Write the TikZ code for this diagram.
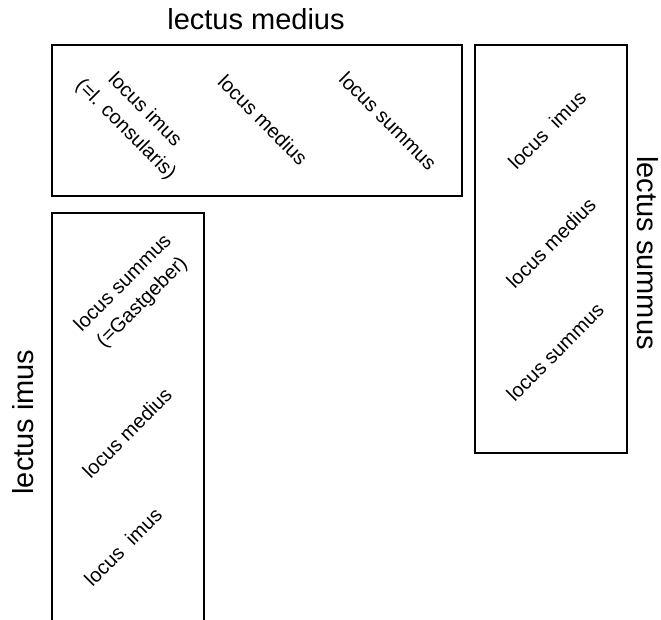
\documentclass[tikz,border=0pt]{standalone}
\usepackage{fontspec}
\setmainfont{Liberation Sans}
\begin{document}
\begin{tikzpicture}[x=1pt,y=-1pt,
  couch/.style={draw=black,line width=2.6pt},
  title/.style={font=\fontsize{29}{33}\selectfont,inner sep=0pt},
  seat/.style={font=\fontsize{20}{27}\selectfont,inner sep=0pt,align=center}]
\useasboundingbox (0,0) rectangle (661,619);
% couches
\draw[couch] (52,45) rectangle (462,196);
\draw[couch] (475,45) rectangle (627,453);
\draw[couch] (52,622) -- (52,213) -- (204,213) -- (204,622);
% titles
\node[title,anchor=base] (tm) at (256,29) {lectus medius};
\node[title,rotate=-90] (ts) at (648,253) {lectus summus};
\node[title,rotate=90] (ti) at (23,422) {lectus imus};
% lectus medius
\node[seat,rotate=-45] (m1) at (135,120) {locus imus\\(=l. consularis)};
\node[seat,rotate=-45] (m2) at (263,120) {locus medius};
\node[seat,rotate=-45] (m3) at (388,121) {locus summus};
% lectus summus
\node[seat,rotate=45] (s1) at (547,130) {locus~ imus};
\node[seat,rotate=45] (s2) at (551,243) {locus medius};
\node[seat,rotate=45] (s3) at (555,352) {locus summus};
% lectus imus
\node[seat,rotate=45] (i1) at (133,293) {locus summus\\(=Gastgeber)};
\node[seat,rotate=45] (i2) at (127,433) {locus medius};
\node[seat,rotate=45] (i3) at (123,547) {locus~ imus};
\end{tikzpicture}
\end{document}
